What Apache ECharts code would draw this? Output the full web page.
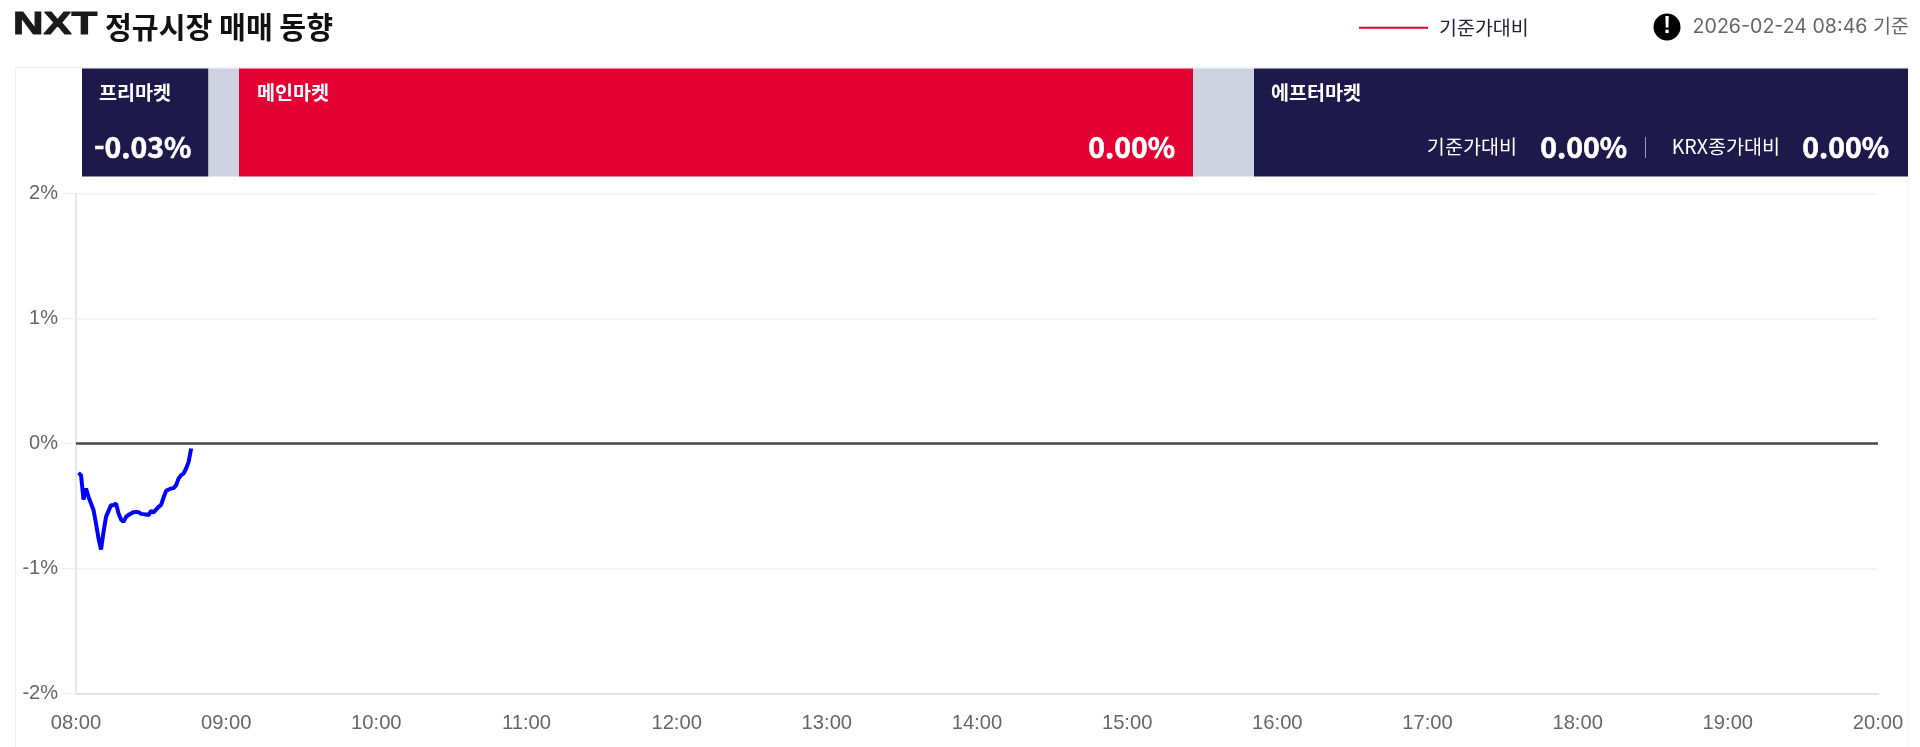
<!DOCTYPE html>
<html lang="ko"><head><meta charset="utf-8">
<style>html,body{margin:0;padding:0;background:#fff}#c{width:1920px;height:747px}</style>
<script src="https://cdn.jsdelivr.net/npm/echarts@6/dist/echarts.min.js"></script>
</head><body><div id="c"></div>
<script>
const minutes=[1,2,3,4,5,6,7,8,9,10,11,12,13,14,15,16,17,18,19,20,21,22,23,24,25,26,27,28,29,30,31,32,33,34,35,36,37,38,39,40,41,42,43,44,45,46];
const changes=[-0.235,-0.253,-0.448,-0.36,-0.427,-0.48,-0.533,-0.64,-0.76,-0.848,-0.707,-0.587,-0.539,-0.493,-0.493,-0.48,-0.56,-0.608,-0.627,-0.587,-0.571,-0.56,-0.549,-0.547,-0.549,-0.563,-0.565,-0.568,-0.573,-0.539,-0.552,-0.528,-0.507,-0.491,-0.432,-0.379,-0.368,-0.36,-0.357,-0.333,-0.28,-0.253,-0.24,-0.2,-0.147,-0.04];
const timeLabels=['08:00','09:00','10:00','11:00','12:00','13:00','14:00','15:00','16:00','17:00','18:00','19:00','20:00'];
const seriesName='기준가대비';
const KR='"Noto Sans CJK KR","Noto Sans",sans-serif';
const IN='Inter,"Noto Sans CJK KR",sans-serif';
const AR='"Liberation Sans",Arial,sans-serif';
const NAVY='#1d1a4b',RED='#e40032',GRAY='#ced2de';
function rect(x,y,w,h,fill){return {type:'rect',silent:true,shape:{x,y,width:w,height:h},style:{fill}};}
function txt(x,y,text,size,weight,fill,align,family){return {type:'text',silent:true,x,y,style:{text,fontSize:size,fontWeight:weight,fill,align:align||'left',verticalAlign:'middle',fontFamily:family||KR}};}
function big(x,text,align){const t=txt(x,147,text,28.4,'bold','#fff',align);t.style.stroke='#fff';t.style.lineWidth=0.6;return t;}
const chart=echarts.init(document.getElementById('c'));
chart.setOption({
 animation:false,
 backgroundColor:'#fff',
 grid:{left:76,right:42,top:193.5,bottom:53.5},
 legend:{left:1354,top:13,itemWidth:69,itemHeight:2,itemGap:12,
  data:[{name:seriesName,icon:'rect',itemStyle:{color:RED}}],
  textStyle:{fontFamily:KR,fontSize:19.5,color:'#22223a',padding:[0,0,0,6]}},
 xAxis:{type:'value',min:0,max:720,interval:60,
  axisLine:{show:true,onZero:false,lineStyle:{color:'#e3e3e3',width:2}},
  axisTick:{show:false},splitLine:{show:false},
  axisLabel:{color:'#666',fontFamily:AR,fontSize:20.2,margin:20,showMaxLabel:true,hideOverlap:false,
   formatter:v=>timeLabels[v/60]}},
 yAxis:{type:'value',min:-2,max:2,interval:1,
  axisLine:{show:true,lineStyle:{color:'#e6e6e6',width:2}},
  axisTick:{show:true,length:14,lineStyle:{color:'#eeeeee'}},
  splitLine:{show:true,lineStyle:{color:'#f1f1f1',width:1.5}},
  axisLabel:{color:'#666',fontFamily:AR,fontSize:20,margin:18,padding:[3,0,0,0],formatter:'{value}%'}},
 series:[{name:seriesName,type:'line',showSymbol:false,symbol:'none',smooth:false,
  lineStyle:{color:'#0000ff',width:4},
  data:minutes.map((m,i)=>[m,changes[i]]),
  markLine:{silent:true,symbol:'none',label:{show:false},lineStyle:{color:'#4a4a4a',width:2.5,type:'solid'},data:[{yAxis:0}]}}],
 graphic:[
  {type:'rect',silent:true,z:-1,shape:{x:15.5,y:67.5,width:1892.5,height:700},style:{fill:'#fff',stroke:'#f0f1f3',lineWidth:1}},
  {type:'text',silent:true,x:13,y:25.5,scaleX:1.36,style:{text:'NXT',fontSize:31,fontWeight:900,fill:'#1a1a1a',stroke:'#1a1a1a',lineWidth:1,verticalAlign:'middle',fontFamily:AR}},
  txt(105,27,'정규시장 매매 동향',29.2,'bold','#111'),
  {type:'circle',silent:true,shape:{cx:1667,cy:27,r:13.5},style:{fill:'#000'}},
  txt(1667,27,'!',23,'bold','#fff','center',AR),
  txt(1909,27.5,'2026-02-24 08:46 기준',19.6,'normal','#666','right',IN),
  rect(82,68.5,126.5,108,NAVY),
  rect(208.5,68.5,30.5,108,GRAY),
  rect(239,68.5,954,108,RED),
  rect(1193,68.5,61,108,GRAY),
  rect(1254,68.5,654,108,NAVY),
  txt(99,92.5,'프리마켓',19.6,'bold','#fff'),
  big(94,'-0.03%','left'),
  txt(257,92.5,'메인마켓',19.6,'bold','#fff'),
  big(1175,'0.00%','right'),
  txt(1271,92.5,'에프터마켓',19.6,'bold','#fff'),
  txt(1517,147,'기준가대비',19.6,'normal','#fff','right'),
  big(1627,'0.00%','right'),
  rect(1645,137,1,21,'#9a9ab0'),
  txt(1780,147,'KRX종가대비',19.6,'normal','#fff','right'),
  big(1889,'0.00%','right')
 ]
});
</script></body></html>
